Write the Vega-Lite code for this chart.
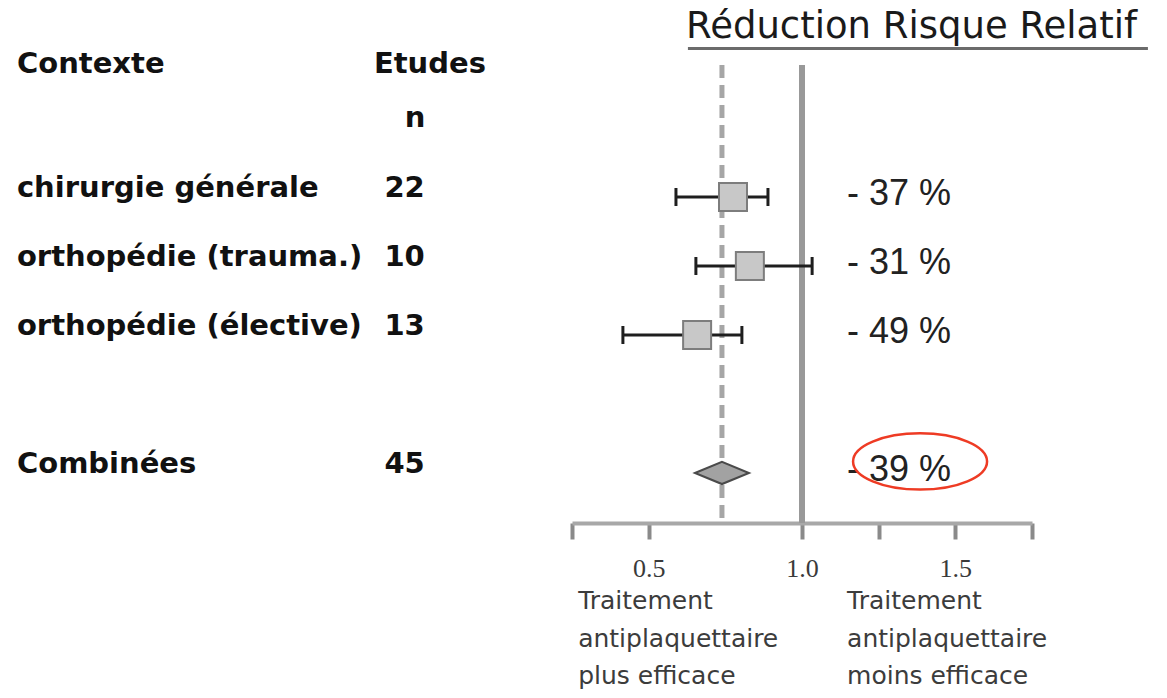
{
  "$schema": "https://vega.github.io/schema/vega-lite/v6.json",
  "width": 460,
  "height": 523,
  "autosize": {"type": "none"},
  "padding": {"left": 572, "top": 0, "right": 135, "bottom": 175},
  "background": "white",
  "config": {
    "view": {"stroke": null},
    "axisY": {"disable": true},
    "axisX": {
      "grid": false,
      "domainColor": "#a8a8a8",
      "domainWidth": 4,
      "domainCap": "butt",
      "tickColor": "#8a8a8a",
      "tickWidth": 4,
      "tickSize": 16,
      "labelFont": "Liberation Serif",
      "labelFontSize": 26,
      "labelColor": "#3a3a3a",
      "labelPadding": 16,
      "labelFlush": false,
      "labelOverlap": false
    }
  },
  "datasets": {
    "studies": [
      {"contexte": "chirurgie générale", "n": 22, "row": 1, "rr": 0.775, "lo": 0.589, "hi": 0.889, "rrr": "- 37 %", "type": "study"},
      {"contexte": "orthopédie (trauma.)", "n": 10, "row": 2, "rr": 0.830, "lo": 0.654, "hi": 1.033, "rrr": "- 31 %", "type": "study"},
      {"contexte": "orthopédie (élective)", "n": 13, "row": 3, "rr": 0.658, "lo": 0.416, "hi": 0.804, "rrr": "- 49 %", "type": "study"},
      {"contexte": "Combinées", "n": 45, "row": 5, "rr": 0.739, "lo": 0.651, "hi": 0.827, "rrr": "- 39 %", "type": "combined"}
    ],
    "ref": [{"value": 1}]
  },
  "data": {"name": "studies"},
  "layer": [
    {
      "data": {"name": "ref"},
      "mark": {"type": "rule", "color": "#999999", "strokeWidth": 6},
      "encoding": {
        "x": {
          "field": "value", "type": "quantitative", "title": null,
          "scale": {"domain": [0.25, 1.75], "nice": false, "zero": false},
          "axis": {
            "title": null,
            "values": [0.25, 0.5, 1, 1.25, 1.5, 1.75],
            "labelExpr": "datum.value == 0.5 || datum.value == 1 || datum.value == 1.5 ? format(datum.value, '.1f') : ''"
          }
        },
        "y": {
          "datum": -0.913, "type": "quantitative",
          "scale": {"domain": [-1.855, 5.725], "nice": false, "zero": false, "reverse": true}
        },
        "y2": {"datum": 5.725}
      }
    },
    {
      "transform": [{"filter": "datum.type == 'combined'"}],
      "mark": {"type": "rule", "color": "#a6a6a6", "strokeWidth": 5, "strokeDash": [13, 7]},
      "encoding": {
        "x": {"field": "rr", "type": "quantitative", "title": null},
        "y": {"datum": -0.913},
        "y2": {"datum": 5.725}
      }
    },
    {
      "transform": [{"filter": "datum.type == 'study'"}],
      "mark": {"type": "rule", "color": "#1e1e1e", "strokeWidth": 3},
      "encoding": {
        "x": {"field": "lo", "type": "quantitative", "title": null},
        "x2": {"field": "hi"},
        "y": {"field": "row", "type": "quantitative"}
      }
    },
    {
      "transform": [{"filter": "datum.type == 'study'"}, {"fold": ["lo", "hi"], "as": ["end", "xv"]}],
      "mark": {"type": "tick", "orient": "vertical", "size": 18, "thickness": 3, "color": "#1e1e1e", "opacity": 1},
      "encoding": {
        "x": {"field": "xv", "type": "quantitative", "title": null},
        "y": {"field": "row", "type": "quantitative"}
      }
    },
    {
      "transform": [{"filter": "datum.type == 'study'"}],
      "mark": {"type": "point", "shape": "square", "size": 784, "filled": true, "fill": "#c8c8c8", "stroke": "#7d7d7d", "strokeWidth": 2, "opacity": 1},
      "encoding": {
        "x": {"field": "rr", "type": "quantitative", "title": null},
        "y": {"field": "row", "type": "quantitative"}
      }
    },
    {
      "transform": [{"filter": "datum.type == 'combined'"}],
      "mark": {"type": "point", "shape": "M-1,0L0,-0.41L1,0L0,0.41Z", "size": 2916, "filled": true, "fill": "#a2a2a2", "stroke": "#4a4a4a", "strokeWidth": 2, "opacity": 1},
      "encoding": {
        "x": {"field": "rr", "type": "quantitative", "title": null},
        "y": {"field": "row", "type": "quantitative"}
      }
    },
    {
      "mark": {"type": "text", "font": "DejaVu Sans", "fontWeight": "bold", "fontSize": 29, "align": "left", "baseline": "middle", "dy": -9, "color": "#111111"},
      "encoding": {
        "x": {"datum": -1.56},
        "y": {"field": "row", "type": "quantitative"},
        "text": {"field": "contexte"}
      }
    },
    {
      "mark": {"type": "text", "font": "DejaVu Sans", "fontWeight": "bold", "fontSize": 29, "align": "right", "baseline": "middle", "dy": -9, "color": "#111111"},
      "encoding": {
        "x": {"datum": -0.23},
        "y": {"field": "row", "type": "quantitative"},
        "text": {"field": "n"}
      }
    },
    {
      "mark": {"type": "text", "font": "Liberation Sans", "fontSize": 36, "align": "left", "baseline": "middle", "dy": -3, "color": "#222222"},
      "encoding": {
        "x": {"datum": 1.147},
        "y": {"field": "row", "type": "quantitative"},
        "text": {"field": "rrr"}
      }
    },
    {
      "transform": [{"filter": "datum.type == 'combined'"}],
      "mark": {"type": "point", "shape": "M-1,0A1,0.42,0,1,0,1,0A1,0.42,0,1,0,-1,0Z", "size": 17956, "filled": false, "stroke": "#ee3b24", "strokeWidth": 2.5, "opacity": 1},
      "encoding": {
        "x": {"datum": 1.385},
        "y": {"datum": 4.833}
      }
    },
    {
      "data": {"values": [{}]},
      "mark": {"type": "text", "text": "Contexte", "font": "DejaVu Sans", "fontWeight": "bold", "fontSize": 29, "align": "left", "baseline": "middle", "color": "#111111"},
      "encoding": {"x": {"datum": -1.56}, "y": {"datum": -0.928}}
    },
    {
      "data": {"values": [{}]},
      "mark": {"type": "text", "text": "Etudes", "font": "DejaVu Sans", "fontWeight": "bold", "fontSize": 29, "align": "left", "baseline": "middle", "color": "#111111"},
      "encoding": {"x": {"datum": -0.396}, "y": {"datum": -0.928}}
    },
    {
      "data": {"values": [{}]},
      "mark": {"type": "text", "text": "n", "font": "DejaVu Sans", "fontWeight": "bold", "fontSize": 29, "align": "center", "baseline": "middle", "color": "#111111"},
      "encoding": {"x": {"datum": -0.262}, "y": {"datum": -0.152}}
    },
    {
      "data": {"values": [{}]},
      "mark": {"type": "text", "text": "Réduction Risque Relatif", "font": "DejaVu Sans", "fontSize": 37, "align": "left", "baseline": "middle", "color": "#1a1a1a"},
      "encoding": {"x": {"datum": 0.622}, "y": {"datum": -1.46}}
    },
    {
      "data": {"values": [{}]},
      "mark": {"type": "rule", "color": "#6b6b6b", "strokeWidth": 3},
      "encoding": {"x": {"datum": 0.628}, "x2": {"datum": 2.128}, "y": {"datum": -1.152}}
    },
    {
      "data": {"values": [{}]},
      "mark": {"type": "text", "text": ["Traitement", "antiplaquettaire", "plus efficace"], "lineHeight": 37.5, "font": "DejaVu Sans", "fontSize": 25, "align": "left", "baseline": "middle", "color": "#3c3c3c"},
      "encoding": {"x": {"datum": 0.27}, "y": {"datum": 6.862}}
    },
    {
      "data": {"values": [{}]},
      "mark": {"type": "text", "text": ["Traitement", "antiplaquettaire", "moins efficace"], "lineHeight": 37.5, "font": "DejaVu Sans", "fontSize": 25, "align": "left", "baseline": "middle", "color": "#3c3c3c"},
      "encoding": {"x": {"datum": 1.147}, "y": {"datum": 6.862}}
    }
  ]
}
